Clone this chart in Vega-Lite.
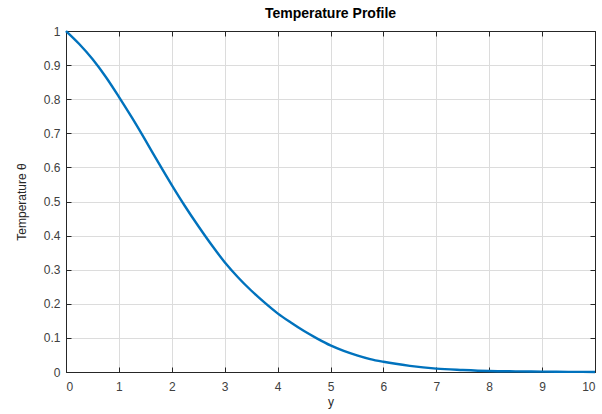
{
  "$schema": "https://vega.github.io/schema/vega-lite/v6.json",
  "width": 529,
  "height": 341,
  "autosize": {"type": "none"},
  "padding": {"left": 66, "top": 31, "right": 7, "bottom": 42},
  "background": "white",
  "title": {"text": "Temperature Profile", "font": "Liberation Sans", "fontSize": 14, "fontWeight": "bold", "color": "#000000", "offset": 4},
  "config": {
    "view": {"stroke": "#262626", "strokeWidth": 1},
    "axis": {"labelFont": "Liberation Sans", "labelFontSize": 12, "labelColor": "#404040", "titleFont": "Liberation Sans", "titleFontSize": 12, "titleFontWeight": "normal", "titleColor": "#262626", "domainColor": "#262626", "tickColor": "#262626", "gridColor": "#dcdcdc", "gridOpacity": 1}
  },
  "data": {"values": [
    {"y": 0, "theta": 1.0},
    {"y": 0.25, "theta": 0.962},
    {"y": 0.5, "theta": 0.918},
    {"y": 0.75, "theta": 0.866},
    {"y": 1.0, "theta": 0.807},
    {"y": 1.25, "theta": 0.745},
    {"y": 1.5, "theta": 0.680},
    {"y": 1.75, "theta": 0.613},
    {"y": 2.0, "theta": 0.548},
    {"y": 2.25, "theta": 0.486},
    {"y": 2.5, "theta": 0.428},
    {"y": 2.75, "theta": 0.373},
    {"y": 3.0, "theta": 0.322},
    {"y": 3.25, "theta": 0.278},
    {"y": 3.5, "theta": 0.239},
    {"y": 3.75, "theta": 0.204},
    {"y": 4.0, "theta": 0.172},
    {"y": 4.25, "theta": 0.145},
    {"y": 4.5, "theta": 0.120},
    {"y": 4.75, "theta": 0.098},
    {"y": 5.0, "theta": 0.078},
    {"y": 5.25, "theta": 0.062},
    {"y": 5.5, "theta": 0.049},
    {"y": 5.75, "theta": 0.038},
    {"y": 6.0, "theta": 0.030},
    {"y": 6.5, "theta": 0.018},
    {"y": 7.0, "theta": 0.010},
    {"y": 7.5, "theta": 0.006},
    {"y": 8.0, "theta": 0.003},
    {"y": 8.5, "theta": 0.0018},
    {"y": 9.0, "theta": 0.001},
    {"y": 9.5, "theta": 0.0005},
    {"y": 10.0, "theta": 0.0002}
  ]},
  "layer": [
    {
      "mark": {"type": "line", "color": "#0072BD", "strokeWidth": 2.4, "interpolate": "monotone"},
      "encoding": {
        "x": {"field": "y", "type": "quantitative", "scale": {"domain": [0, 10], "nice": false}, "axis": {"orient": "bottom", "title": "y", "format": "d", "values": [0,1,2,3,4,5,6,7,8,9,10], "tickSize": -5, "labelPadding": 14, "titlePadding": 4, "grid": true}},
        "y": {"field": "theta", "type": "quantitative", "scale": {"domain": [0, 1], "nice": false}, "axis": {"orient": "left", "title": "Temperature θ", "format": "~g", "values": [0,0.1,0.2,0.3,0.4,0.5,0.6,0.7,0.8,0.9,1], "tickSize": -5, "labelPadding": 11, "titlePadding": 15, "grid": true}}
      }
    },
    {
      "mark": {"type": "line", "opacity": 0},
      "encoding": {
        "x": {"field": "y", "type": "quantitative", "axis": {"orient": "top", "title": null, "labels": false, "domain": true, "values": [0,1,2,3,4,5,6,7,8,9,10], "tickSize": -5, "grid": false}},
        "y": {"field": "theta", "type": "quantitative", "axis": {"orient": "right", "title": null, "labels": false, "domain": true, "values": [0,0.1,0.2,0.3,0.4,0.5,0.6,0.7,0.8,0.9,1], "tickSize": -5, "grid": false}}
      }
    }
  ],
  "resolve": {"axis": {"x": "independent", "y": "independent"}}
}
